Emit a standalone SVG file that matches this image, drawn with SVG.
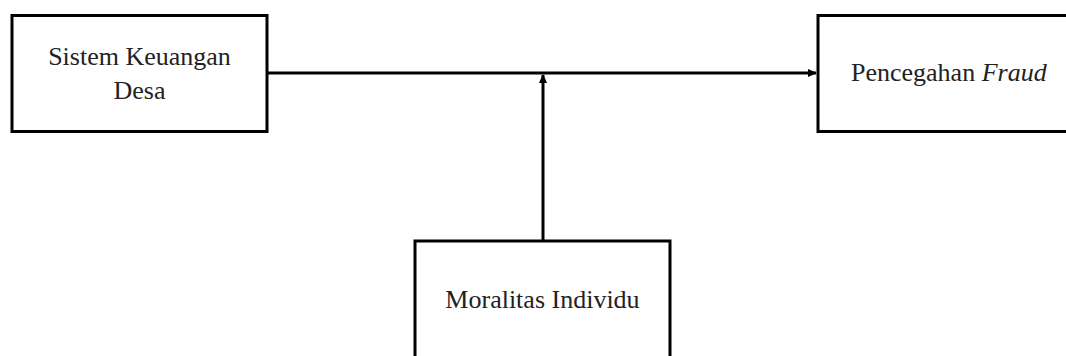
<svg xmlns="http://www.w3.org/2000/svg" width="1066" height="356" viewBox="0 0 1066 356">
<style>
.box{fill:#fff;stroke:#000;stroke-width:3}
.t{font-family:"Liberation Serif",serif;font-size:26px;fill:#222}
.c{stroke:#000;stroke-width:3;fill:none}
</style>
<defs>
<marker id="ah" markerWidth="9" markerHeight="8" refX="8" refY="4" orient="auto" markerUnits="userSpaceOnUse">
<path d="M0,0 L9,4 L0,8 z" fill="#000"/>
</marker>
</defs>
<rect width="1066" height="356" fill="#fff"/>
<g id="connectors">
<line class="c" x1="268" y1="73" x2="816" y2="73" marker-end="url(#ah)"/>
<line class="c" x1="543" y1="240" x2="543" y2="75" marker-end="url(#ah)"/>
</g>
<g id="node-sistem">
<rect class="box" x="12" y="15.5" width="255" height="116"/>
<text class="t" x="139.5" y="65" text-anchor="middle">Sistem Keuangan</text>
<text class="t" x="139.5" y="99" text-anchor="middle">Desa</text>
</g>
<g id="node-pencegahan">
<rect class="box" x="818" y="15.5" width="260" height="116"/>
<text class="t" x="851" y="81">Pencegahan <tspan font-style="italic">Fraud</tspan></text>
</g>
<g id="node-moralitas">
<rect class="box" x="415" y="241" width="255" height="130"/>
<text class="t" x="542.5" y="308" text-anchor="middle">Moralitas Individu</text>
</g>
</svg>
